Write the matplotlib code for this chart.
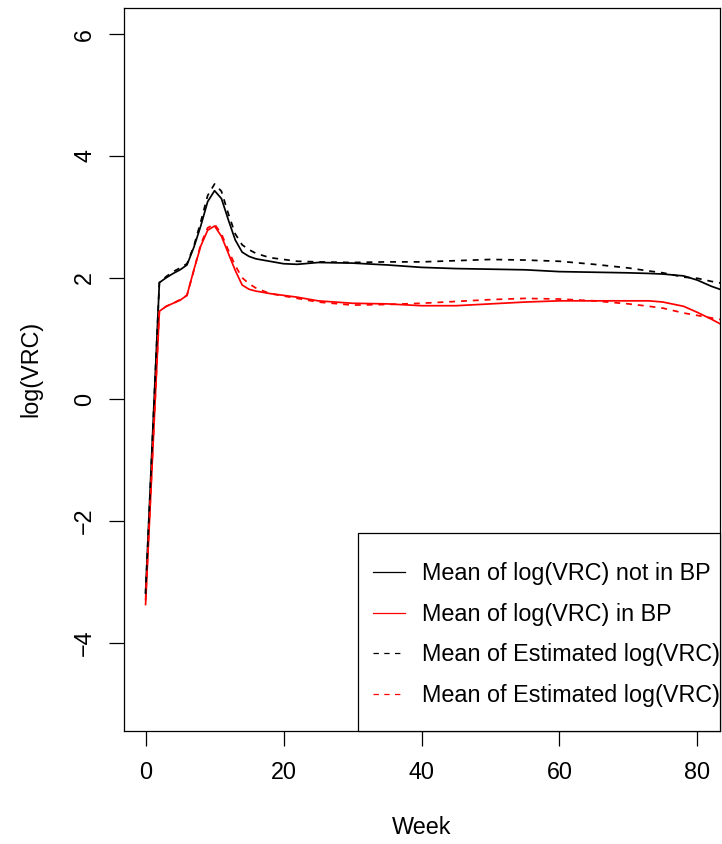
import matplotlib
matplotlib.use("Agg")
import matplotlib.pyplot as plt
from matplotlib.lines import Line2D
from matplotlib.patches import Rectangle

plt.rcParams["font.family"] = ["Liberation Sans", "DejaVu Sans"]

# Weeks at which the group means are evaluated
weeks = [0, 2, 3, 4, 5, 6, 7, 8, 9, 10, 11, 12, 13, 14, 15, 16, 18, 20, 22,
         25, 30, 35, 40, 45, 50, 55, 60, 65, 70, 73, 75, 78, 80, 82, 84]

# Mean of observed log(VRC), patients not in BP
obs_not_bp = [-3.17, 1.92, 2.00, 2.07, 2.13, 2.21, 2.50, 2.85, 3.25, 3.43,
              3.30, 2.95, 2.62, 2.42, 2.35, 2.31, 2.27, 2.23, 2.22,
              2.25, 2.24, 2.21, 2.17, 2.15, 2.14, 2.13, 2.10, 2.09, 2.08,
              2.07, 2.06, 2.03, 1.96, 1.86, 1.78]

# Mean of observed log(VRC), patients in BP
obs_bp = [-3.37, 1.45, 1.53, 1.58, 1.63, 1.71, 2.13, 2.52, 2.78, 2.85,
          2.68, 2.40, 2.12, 1.88, 1.81, 1.78, 1.74, 1.71, 1.68,
          1.62, 1.58, 1.57, 1.54, 1.54, 1.57, 1.60, 1.62, 1.62, 1.62,
          1.62, 1.60, 1.53, 1.43, 1.32, 1.20]

# Mean of estimated log(VRC), not in BP
est_not_bp = [-3.20, 1.92, 2.02, 2.10, 2.16, 2.23, 2.52, 2.92, 3.35, 3.54,
              3.42, 3.05, 2.72, 2.54, 2.46, 2.40, 2.33, 2.30, 2.27,
              2.26, 2.25, 2.26, 2.26, 2.28, 2.30, 2.29, 2.27, 2.22, 2.16,
              2.11, 2.08, 2.01, 1.99, 1.94, 1.90]

# Mean of estimated log(VRC), in BP
est_bp = [-3.30, 1.45, 1.53, 1.58, 1.64, 1.71, 2.12, 2.55, 2.82, 2.88,
          2.72, 2.45, 2.20, 2.00, 1.90, 1.83, 1.74, 1.70, 1.66,
          1.60, 1.55, 1.56, 1.58, 1.61, 1.64, 1.66, 1.65, 1.62, 1.57,
          1.53, 1.50, 1.42, 1.38, 1.34, 1.30]

legend_labels = ["Mean of log(VRC) not in BP",
                 "Mean of log(VRC) in BP",
                 "Mean of Estimated log(VRC)",
                 "Mean of Estimated log(VRC)"]

x_ticks = [0, 20, 40, 60, 80]
y_ticks = [-4, -2, 0, 2, 4, 6]

FS = 16.8
W, H = 722, 844
fig = plt.figure(figsize=(W / 100, H / 100), dpi=100)
ax = fig.add_axes([123.5 / W, (H - 730.5) / H, 596 / W, 723 / H])

lw = 1.25
dash = (3.4, 3.4)
ax.plot(weeks, obs_not_bp, color="black", lw=lw)
ax.plot(weeks, obs_bp, color="red", lw=lw)
ax.plot(weeks, est_not_bp, color="black", lw=lw, linestyle=(0, dash))
ax.plot(weeks, est_bp, color="red", lw=lw, linestyle=(0, dash))

ax.set_xlim(-3.2, 83.2)
ax.set_ylim(-5.44, 6.44)
ax.set_xticks(x_ticks)
ax.set_yticks(y_ticks)
ax.set_xticklabels([str(v) for v in x_ticks], fontsize=FS)
ax.set_yticklabels([str(v).replace("-", "\u2212") for v in y_ticks],
                   fontsize=FS, rotation=90, va="center")
ax.tick_params(axis="both", length=10.8, width=0.9, color="black")
ax.tick_params(axis="x", pad=11)
ax.tick_params(axis="y", pad=9)
for sp in ax.spines.values():
    sp.set_linewidth(0.9)
    sp.set_color("black")

ax.set_xlabel("Week", fontsize=FS, labelpad=23.5)
ax.set_ylabel("log(VRC)", fontsize=FS, labelpad=22)

# Legend box anchored at the lower right corner of the plot region
box_left = (358 - 123.5) / 596
box_top = (730.5 - 533) / 723
ax.add_patch(Rectangle((box_left, 0), 1 - box_left, box_top,
                       transform=ax.transAxes, fill=True, facecolor="white",
                       edgecolor="black", lw=0.9, zorder=5, clip_on=False))

handles = [Line2D([], [], color="black", lw=0.9),
           Line2D([], [], color="red", lw=0.9),
           Line2D([], [], color="black", lw=0.9, linestyle=(0, (4.3, 4.3))),
           Line2D([], [], color="red", lw=0.9, linestyle=(0, (4.3, 4.3)))]
leg = ax.legend(handles, legend_labels, loc="upper left",
                bbox_to_anchor=((373 - 123.5) / 596, (730.5 - 562) / 723),
                frameon=False, fontsize=FS, borderpad=0, borderaxespad=0,
                handlelength=32 / 23.3, handletextpad=17 / 23.3,
                labelspacing=0.76)
leg.set_zorder(6)

fig.savefig("out.png", dpi=100)
